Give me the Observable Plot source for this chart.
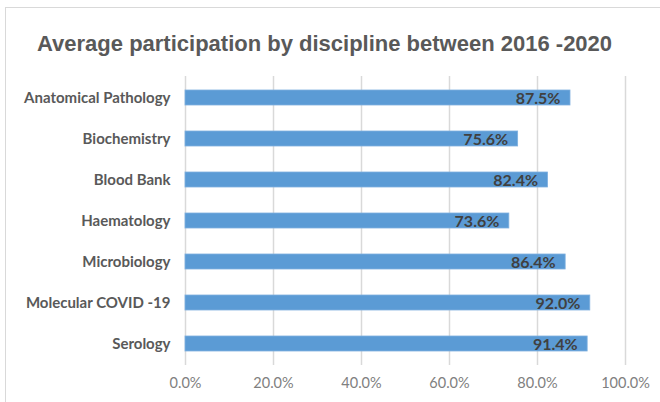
<!DOCTYPE html>
<html>
<head>
<meta charset="utf-8">
<script src="https://cdn.jsdelivr.net/npm/d3@7"></script>
<script src="https://cdn.jsdelivr.net/npm/@observablehq/plot@0.6"></script>
<style>
  html, body { margin: 0; padding: 0; background: #fff; }
  #wrap { position: relative; width: 660px; height: 402px; overflow: hidden; background: #fff; }
  #title { position: absolute; left: 37px; top: 31px; font-family: "Liberation Sans", Arial, sans-serif; font-weight: bold; font-size: 22px; color: #595959; white-space: nowrap; line-height: 26px; }
  #chart { position: absolute; left: 0; top: 60px; }
  #border { position: absolute; left: 5px; top: 7px; width: 800px; height: 600px; border: 1px solid #d9d9d9; pointer-events: none; }
</style>
</head>
<body>
<div id="wrap">
  <div id="title">Average participation by discipline between 2016 -2020</div>
  <div id="chart"></div>
  <div id="border"></div>
</div>
<script>
const categories = ["Anatomical Pathology", "Biochemistry", "Blood Bank", "Haematology", "Microbiology", "Molecular COVID -19", "Serology"];
const values = [87.5, 75.6, 82.4, 73.6, 86.4, 92.0, 91.4];
const xTicks = [0, 20, 40, 60, 80, 100];
const xTickLabels = ["0.0%", "20.0%", "40.0%", "60.0%", "80.0%", "100.0%"];
const valueLabels = ["87.5%", "75.6%", "82.4%", "73.6%", "86.4%", "92.0%", "91.4%"];

const data = categories.map((c, i) => ({cat: c, value: values[i], label: valueLabels[i]}));

const chart = Plot.plot({
  width: 660,
  height: 342,
  marginTop: 16,
  marginBottom: 37,
  marginLeft: 185,
  marginRight: 35,
  style: {background: "transparent", fontFamily: "Lato, 'Open Sans', sans-serif"},
  x: {domain: [0, 100]},
  y: {domain: categories, paddingInner: 0.63, paddingOuter: 0.315},
  marks: [
    Plot.ruleX(xTicks, {stroke: "#d9d9d9", strokeWidth: 1.5}),
    Plot.barX(data, {x: "value", y: "cat", fill: "#5b9bd5", stroke: "#7fb0df", strokeWidth: 0.8}),
    Plot.text(data, {x: "value", y: "cat", text: "label", textAnchor: "end", dx: -10, dy: 1, fill: "#404040", fontWeight: "bold", fontSize: 16}),
    Plot.axisY({tickSize: 0, tickPadding: 15, fontSize: 15, fontWeight: "bold", fill: "#595959", label: null}),
    Plot.axisX({ticks: xTicks, tickFormat: (d) => xTickLabels[xTicks.indexOf(d)], tickSize: 0, tickPadding: 12, fontSize: 14.5, fill: "#808080", label: null})
  ]
});
document.getElementById("chart").appendChild(chart);
</script>
</body>
</html>
